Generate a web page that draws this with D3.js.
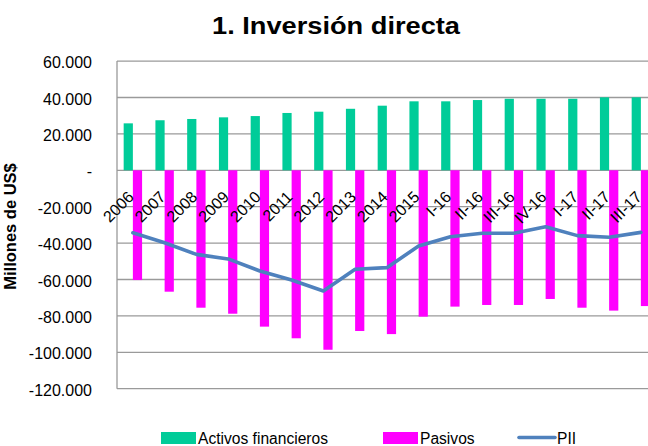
<!DOCTYPE html>
<html>
<head>
<meta charset="utf-8">
<script src="https://cdn.jsdelivr.net/npm/d3@7"></script>
<style>
  html, body { margin: 0; padding: 0; background: #fff; overflow: hidden; }
  svg { display: block; }
</style>
</head>
<body>
<script>
const categories = ["2006","2007","2008","2009","2010","2011","2012","2013","2014","2015",
  "I-16","II-16","III-16","IV-16","I-17","II-17","III-17"];
const activos = [25800,27500,28200,29100,29800,31500,32200,33800,35500,37900,
  37900,38600,39300,39300,39300,40100,40100];
const pasivos = [-60300,-66700,-75500,-78800,-85900,-92300,-98600,-88300,-90000,-80400,
  -74900,-74000,-74000,-70700,-75500,-77100,-74600];
const pii = [-34300,-39800,-46200,-48700,-55300,-60300,-66300,-54400,-53500,-41600,
  -36500,-34600,-34600,-31000,-35900,-36800,-34100];
const yTicks = [60000,40000,20000,0,-20000,-40000,-60000,-80000,-100000,-120000];
const yTickLabels = ["60.000","40.000","20.000","-","-20.000","-40.000","-60.000","-80.000","-100.000","-120.000"];
const title = "1. Inversión directa";
const yTitle = "Millones de US$";
const legendItems = ["Activos financieros","Pasivos","PII"];

const W = 648, H = 446;
const colGreen = "#00CC99", colPink = "#FF00FF", colLine = "#4F81BD", colGrid = "#9a9a9a";

const svg = d3.select("body").append("svg").attr("width", W).attr("height", H);
svg.append("rect").attr("width", W).attr("height", H).attr("fill", "#fff");

const x0 = d3.scaleBand().domain(categories).range([117, 117 + 17 * 31.75])
  .paddingInner(0.42).paddingOuter(0.21);
const x1 = d3.scaleBand().domain([0, 1]).range([0, x0.bandwidth()]);
const y = d3.scaleLinear().domain([-120000, 60000]).range([388.7, 61.1]);
const cx = c => x0(c) + x0.bandwidth() / 2;

// gridlines
svg.append("g").selectAll("line").data(yTicks).join("line")
  .attr("x1", 117).attr("x2", 665)
  .attr("y1", d => y(d)).attr("y2", d => y(d))
  .attr("stroke", colGrid).attr("stroke-width", 1.3);

// y axis line
svg.append("line").attr("x1", 117).attr("x2", 117)
  .attr("y1", y(60000)).attr("y2", y(-120000))
  .attr("stroke", colGrid).attr("stroke-width", 1.3);

// y tick labels
const yAxis = d3.axisLeft(y).tickValues(yTicks).tickSize(0)
  .tickFormat((d, i) => yTickLabels[i]);
const ya = svg.append("g").attr("transform", "translate(92,1.5)").call(yAxis);
ya.select(".domain").remove();
ya.selectAll("text").attr("x", 0).attr("font-family", "Liberation Sans, Arial, sans-serif")
  .attr("font-size", 16).attr("fill", "#000");

// bars
svg.append("g").selectAll("rect").data(categories).join("rect")
  .attr("x", c => x0(c) + x1(0)).attr("width", x1.bandwidth())
  .attr("y", (c, i) => y(activos[i])).attr("height", (c, i) => y(0) - y(activos[i]))
  .attr("fill", colGreen);
svg.append("g").selectAll("rect").data(categories).join("rect")
  .attr("x", c => x0(c) + x1(1)).attr("width", x1.bandwidth())
  .attr("y", y(0)).attr("height", (c, i) => y(pasivos[i]) - y(0))
  .attr("fill", colPink);

// x labels
svg.append("g").selectAll("text").data(categories).join("text")
  .attr("transform", c => `translate(${cx(c) + 2},198) rotate(-45)`)
  .attr("text-anchor", "end")
  .attr("font-family", "Liberation Sans, Arial, sans-serif").attr("font-size", 16)
  .attr("fill", "#000").text(c => c);

// PII line
const line = d3.line().x((d, i) => cx(categories[i])).y(d => y(d));
svg.append("path").datum(pii).attr("d", line)
  .attr("fill", "none").attr("stroke", colLine).attr("stroke-width", 3.6)
  .attr("stroke-linejoin", "round").attr("stroke-linecap", "round");

// title
svg.append("text").attr("x", 336).attr("y", 33.5).attr("text-anchor", "middle")
  .attr("font-family", "Liberation Sans, Arial, sans-serif").attr("font-weight", "bold")
  .attr("font-size", 23.5).attr("textLength", 248).attr("lengthAdjust", "spacingAndGlyphs")
  .attr("fill", "#000").text(title);

// y title
svg.append("text").attr("transform", "translate(15.5,226.5) rotate(-90)")
  .attr("text-anchor", "middle")
  .attr("font-family", "Liberation Sans, Arial, sans-serif").attr("font-weight", "bold")
  .attr("font-size", 16.5).attr("fill", "#000").text(yTitle);

// legend
const lg = svg.append("g").attr("font-family", "Liberation Sans, Arial, sans-serif")
  .attr("font-size", 15.6).attr("fill", "#000");
lg.append("rect").attr("x", 161).attr("y", 432).attr("width", 35).attr("height", 12).attr("fill", colGreen);
lg.append("text").attr("x", 198).attr("y", 443.5).text(legendItems[0]);
lg.append("rect").attr("x", 383).attr("y", 432).attr("width", 35).attr("height", 12).attr("fill", colPink);
lg.append("text").attr("x", 420).attr("y", 443.5).text(legendItems[1]);
lg.append("line").attr("x1", 519).attr("x2", 555).attr("y1", 437.5).attr("y2", 437.5)
  .attr("stroke", colLine).attr("stroke-width", 3.6).attr("stroke-linecap", "round");
lg.append("text").attr("x", 557).attr("y", 443.5).text(legendItems[2]);
</script>
</body>
</html>
